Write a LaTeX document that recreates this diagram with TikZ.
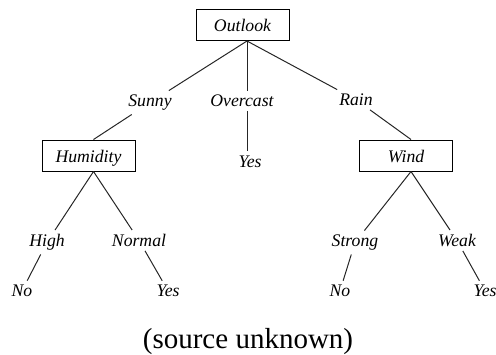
\documentclass[tikz,border=0pt]{standalone}
\usepackage{fontspec}
\setmainfont{Liberation Serif}
\tikzset{
  attr/.style={draw, line width=1pt, minimum width=93pt, minimum height=31pt,
    text height=13pt, text depth=0pt, inner sep=0pt,
    font=\fontsize{17.7}{20}\selectfont\itshape},
  lbl/.style={anchor=base, inner sep=4pt, font=\fontsize{17.7}{20}\selectfont\itshape},
  branch/.style={line width=1pt, black!85}
}
\begin{document}
\begin{tikzpicture}[x=1pt, y=-1pt]
      \useasboundingbox (0, 0) rectangle (496, 354);

      \node[attr] (outlook) at (242.5, 25) {Outlook};
      \node[attr] (humidity) at (88.5, 155.5) {Humidity};
      \node[attr] (wind) at (406, 155.5) {Wind};
      \coordinate (root) at ([xshift=4.5pt]outlook.south);

      \node[lbl] (sunny) at (150, 106.5) {Sunny};
      \node[lbl] (overcast) at (242, 106.5) {Overcast};
      \node[lbl] (rain) at (356, 105.5) {Rain};
      \node[lbl] (yesa) at (250, 167) {Yes};

      \node[lbl] (high) at (47, 246.5) {High};
      \node[lbl] (normal) at (139, 246.5) {Normal};
      \node[lbl] (strong) at (355, 246.5) {Strong};
      \node[lbl] (weak) at (457, 246.5) {Weak};

      \node[lbl] (noa) at (22, 296.5) {No};
      \node[lbl] (yesb) at (168, 296.5) {Yes};
      \node[lbl] (nob) at (340, 296.5) {No};
      \node[lbl] (yesc) at (485, 296.5) {Yes};

      \draw[branch] (root) -- (sunny);
      \draw[branch] (root) -- (root |- overcast.north);
      \draw[branch] (root) -- (rain);
      \draw[branch] (sunny) -- ([xshift=5pt]humidity.north);
      \draw[branch] (root |- overcast.south) -- (root |- yesa.north);
      \draw[branch] (rain) -- ([xshift=5pt]wind.north);

      \draw[branch] ([xshift=5pt]humidity.south) -- (high);
      \draw[branch] ([xshift=5pt]humidity.south) -- (normal);
      \draw[branch] ([xshift=5pt]wind.south) -- (strong);
      \draw[branch] ([xshift=5pt]wind.south) -- (weak);

      \draw[branch] (high) -- (noa);
      \draw[branch] (normal) -- (yesb);
      \draw[branch] (strong) -- (nob);
      \draw[branch] (weak) -- (yesc);

      \node[anchor=base, font=\fontsize{29}{34}\selectfont] (caption) at (248, 348) {(source unknown)};
    \end{tikzpicture}
\end{document}
